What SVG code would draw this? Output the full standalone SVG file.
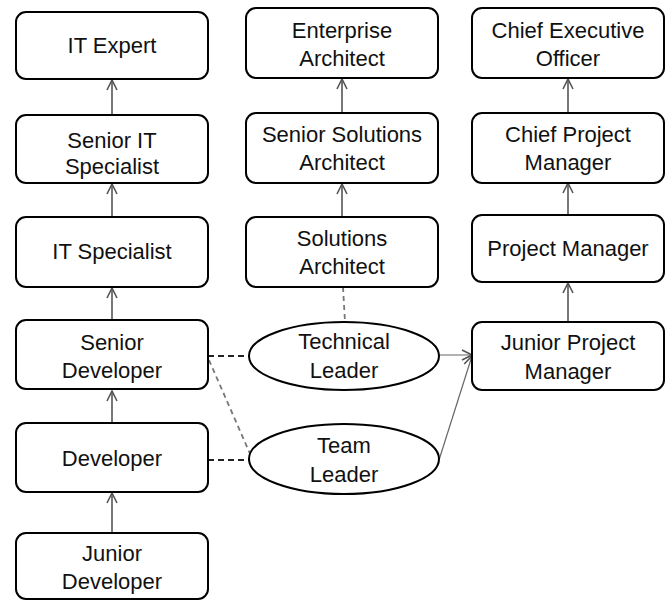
<svg xmlns="http://www.w3.org/2000/svg" width="672" height="603" viewBox="0 0 672 603">
<style>
.box{fill:#fff;stroke:#000;stroke-width:2}
.t{font-family:"Liberation Sans",Arial,sans-serif;font-size:22px;fill:#111;text-anchor:middle}
.a{stroke:#555;stroke-width:1.6;fill:none}
.d{stroke:#222;stroke-width:1.8;stroke-dasharray:6,4;fill:none}
.dg{stroke:#777;stroke-width:1.8;stroke-dasharray:5,4;fill:none}
.s{stroke:#666;stroke-width:1.2;fill:none}
</style>
<defs>
<marker id="ah" viewBox="0 0 12 12" refX="11" refY="6" markerWidth="12" markerHeight="12" markerUnits="userSpaceOnUse" orient="auto">
<path d="M1,1 L11,6 L1,11" fill="none" stroke="#555" stroke-width="1.6"/>
</marker>
</defs>
<rect width="672" height="603" fill="#fff"/>
<g id="connectors">
<line class="a" x1="112" y1="115" x2="112" y2="80" marker-end="url(#ah)"/>
<line class="a" x1="112" y1="217" x2="112" y2="184" marker-end="url(#ah)"/>
<line class="a" x1="112" y1="320" x2="112" y2="288" marker-end="url(#ah)"/>
<line class="a" x1="112" y1="423" x2="112" y2="391" marker-end="url(#ah)"/>
<line class="a" x1="112" y1="533" x2="112" y2="493" marker-end="url(#ah)"/>
<line class="a" x1="342" y1="113" x2="342" y2="79" marker-end="url(#ah)"/>
<line class="a" x1="342" y1="217" x2="342" y2="184" marker-end="url(#ah)"/>
<line class="a" x1="568" y1="113" x2="568" y2="79" marker-end="url(#ah)"/>
<line class="a" x1="568" y1="215" x2="568" y2="183" marker-end="url(#ah)"/>
<line class="a" x1="568" y1="322" x2="568" y2="283" marker-end="url(#ah)"/>
<line class="d" x1="208" y1="356" x2="249" y2="356"/>
<line class="dg" x1="209" y1="360" x2="251" y2="456"/>
<line class="d" x1="208" y1="460" x2="249" y2="460"/>
<line class="dg" x1="343" y1="287" x2="345" y2="322"/>
<line class="s" x1="439" y1="355" x2="472" y2="355" marker-end="url(#ah)"/>
<line class="s" x1="439" y1="460" x2="472" y2="356" marker-end="url(#ah)"/>
</g>
<g id="it-expert"><rect class="box" x="16" y="12" width="192" height="67" rx="10"/><text class="t" x="112" y="53">IT Expert</text></g>
<g id="senior-it-specialist"><rect class="box" x="16" y="115" width="192" height="68" rx="10"/><text class="t" x="112" y="148">Senior IT</text><text class="t" x="112" y="174">Specialist</text></g>
<g id="it-specialist"><rect class="box" x="16" y="217" width="192" height="70" rx="10"/><text class="t" x="112" y="259">IT Specialist</text></g>
<g id="senior-developer"><rect class="box" x="16" y="320" width="192" height="69" rx="10"/><text class="t" x="112" y="350">Senior</text><text class="t" x="112" y="378">Developer</text></g>
<g id="developer"><rect class="box" x="16" y="423" width="192" height="69" rx="10"/><text class="t" x="112" y="466">Developer</text></g>
<g id="junior-developer"><rect class="box" x="16" y="533" width="192" height="66" rx="10"/><text class="t" x="112" y="561">Junior</text><text class="t" x="112" y="589">Developer</text></g>
<g id="enterprise-architect"><rect class="box" x="246" y="8" width="192" height="70" rx="10"/><text class="t" x="342" y="38">Enterprise</text><text class="t" x="342" y="66">Architect</text></g>
<g id="senior-solutions-architect"><rect class="box" x="246" y="113" width="192" height="70" rx="10"/><text class="t" x="342" y="142">Senior Solutions</text><text class="t" x="342" y="170">Architect</text></g>
<g id="solutions-architect"><rect class="box" x="246" y="217" width="192" height="70" rx="10"/><text class="t" x="342" y="246">Solutions</text><text class="t" x="342" y="274">Architect</text></g>
<g id="technical-leader"><ellipse class="box" cx="344" cy="356" rx="95" ry="34"/><text class="t" x="344" y="349">Technical</text><text class="t" x="344" y="378">Leader</text></g>
<g id="team-leader"><ellipse class="box" cx="344" cy="459" rx="95" ry="35"/><text class="t" x="344" y="453">Team</text><text class="t" x="344" y="482">Leader</text></g>
<g id="ceo"><rect class="box" x="472" y="8" width="192" height="70" rx="10"/><text class="t" x="568" y="38">Chief Executive</text><text class="t" x="568" y="66">Officer</text></g>
<g id="chief-project-manager"><rect class="box" x="472" y="113" width="192" height="70" rx="10"/><text class="t" x="568" y="142">Chief Project</text><text class="t" x="568" y="170">Manager</text></g>
<g id="project-manager"><rect class="box" x="472" y="215" width="192" height="67" rx="10"/><text class="t" x="568" y="256">Project Manager</text></g>
<g id="junior-project-manager"><rect class="box" x="472" y="322" width="192" height="68" rx="10"/><text class="t" x="568" y="350">Junior Project</text><text class="t" x="568" y="379">Manager</text></g>
</svg>
